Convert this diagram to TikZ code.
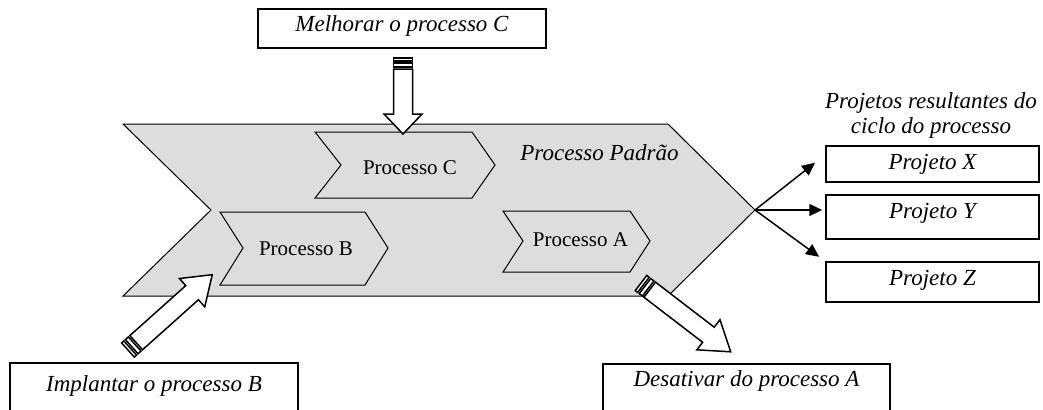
\documentclass[tikz,border=0pt]{standalone}
\usepackage{fontspec}
\setmainfont{Liberation Serif}
\usetikzlibrary{arrows.meta,calc}

\definecolor{padraogray}{RGB}{221,221,221}

% striped block arrow: tail, angle, length, head length
\newcommand{\stripedarrow}[4]{%
  \begin{scope}[shift={#1},rotate=#2]
    \draw[blockarrow] (0,-9.5) rectangle (3,9.5);
    \draw[blockarrow] (5,-9.5) rectangle (9,9.5);
    \draw[blockarrow] (11,-9.5) -- ({#3-#4},-9.5) -- ({#3-#4},-19) -- (#3,0)
      -- ({#3-#4},19) -- ({#3-#4},9.5) -- (11,9.5) -- cycle;
  \end{scope}}

\begin{document}
\begin{tikzpicture}[x=0.5pt,y=-0.5pt,
    textbox/.style={draw,line width=0.75pt,inner sep=0pt,anchor=base,
      font=\fontsize{11.5}{12.5}\selectfont\itshape},
    procbox/.style={draw,fill=padraogray,line width=0.5pt},
    proclabel/.style={inner sep=0pt,anchor=base,font=\fontsize{10.5}{12}\selectfont},
    blockarrow/.style={draw,fill=white,line width=0.75pt,line join=miter},
    result/.style={line width=0.75pt,-{Triangle[length=6.5pt,width=6pt]}}]
  \clip (0,0) rectangle (1043,409);

  % processo padrao (big chevron)
  \draw[procbox] (123,124) -- (668,124) -- (755,210) coordinate (tip)
    -- (668,296) -- (123,296) -- (211,210) -- cycle;
  \node[inner sep=0pt,anchor=base west,font=\fontsize{11.5}{12.5}\selectfont\itshape]
    (padrao) at (520,160) {Processo Padrão};

  % the three processes
  \draw[procbox] (315,132) -- (472,132) -- (495,165) -- (472,198) -- (315,198) -- (341,165) -- cycle;
  \node[proclabel] (procC) at (410,174.3) {Processo C};
  \draw[procbox] (220,212) -- (365,212) -- (388,248) -- (365,285) -- (220,285) -- (243,248) -- cycle;
  \node[proclabel] (procB) at (306,255) {Processo B};
  \draw[procbox] (503,211) -- (630,211) -- (650,241) -- (630,272) -- (503,272) -- (523,241) -- cycle;
  \node[proclabel] (procA) at (580.5,246.7) {Processo A};

  % actions on the processes
  \node[textbox,minimum width=144pt,text height=11.35pt,text depth=8.15pt]
    (melhorar) at (402,31.7) {Melhorar o processo C};
  \node[textbox,minimum width=144pt,text height=14.35pt,text depth=14pt]
    (implantar) at (154,391.7) {Implantar o processo B};
  \node[textbox,minimum width=143.5pt,text height=11.35pt,text depth=16.65pt]
    (desativar) at (746.5,386.7) {Desativar do processo A};

  \stripedarrow{(403,58)}{-90}{76}{20}
  \stripedarrow{(128,350)}{41.8}{113}{27}
  \stripedarrow{(641,283)}{-37.5}{113}{28}

  % resulting projects
  \node[inner sep=0pt,anchor=base,align=center,font=\fontsize{11.5}{12.5}\selectfont\itshape]
    (titulo) at (931,133.3) {Projetos resultantes do\\ciclo do processo};
  \node[textbox,minimum width=106.5pt,text height=11.65pt,text depth=6.35pt]
    (prjx) at (932.5,169.3) {Projeto X};
  \node[textbox,minimum width=106.5pt,text height=11.65pt,text depth=10.35pt]
    (prjy) at (932.5,218.3) {Projeto Y};
  \node[textbox,minimum width=106.5pt,text height=11.5pt,text depth=8.5pt]
    (prjz) at (932.5,285) {Projeto Z};

  \draw[result,shorten >=6.5pt] (tip) -- ($(prjx.north west)!0.5!(prjx.west)$);
  \draw[result,shorten >=1.5pt] (tip) -- (tip -| prjy.west);
  \draw[result,shorten >=3.8pt] (tip) -- (prjz.north west);
\end{tikzpicture}
\end{document}
